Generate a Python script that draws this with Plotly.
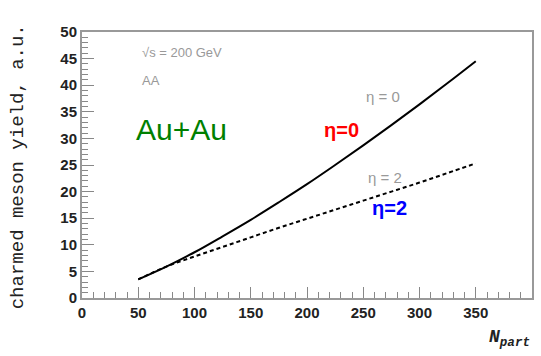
import plotly.graph_objects as go

n_part_solid = [50, 75, 100, 125, 150, 175, 200, 225, 250, 275, 300, 325, 350]
yield_eta0 = [3.5, 5.9, 8.6, 11.6, 14.7, 18.0, 21.4, 25.0, 28.7, 32.5, 36.4, 40.4, 44.5]
n_part_dash = [50, 75, 100, 125, 150, 175, 200, 225, 250, 275, 300, 325, 350]
yield_eta2 = [3.5, 5.9, 7.8, 9.6, 11.4, 13.2, 14.9, 16.6, 18.3, 20.0, 21.7, 23.5, 25.3]

x_ticks = [0, 50, 100, 150, 200, 250, 300, 350, 400]
y_ticks = [0, 5, 10, 15, 20, 25, 30, 35, 40, 45, 50]

fig = go.Figure()
fig.add_trace(go.Scatter(x=n_part_solid, y=yield_eta0, mode="lines",
                         line=dict(color="black", width=2), line_shape="spline"))
fig.add_trace(go.Scatter(x=n_part_dash, y=yield_eta2, mode="lines",
                         line=dict(color="black", width=2, dash="4px,3px"), line_shape="spline"))

tickfont = dict(family="Liberation Sans, Arial", size=15, color="#222222", weight="bold")
fig.update_layout(
    width=541, height=356,
    margin=dict(l=82, r=7, t=32, b=58),
    paper_bgcolor="white", plot_bgcolor="white",
    showlegend=False,
    xaxis=dict(range=[0, 400], tickvals=x_ticks, ticks="inside", ticklen=11, tickcolor="#888",
               showgrid=False, zeroline=False, showline=True, linecolor="#999", linewidth=2,
               mirror=True, tickfont=tickfont,
               minor=dict(dtick=10, ticks="inside", ticklen=6, tickcolor="#888", showgrid=False)),
    yaxis=dict(range=[0, 50], tickvals=y_ticks, ticks="inside", ticklen=12, tickcolor="#888",
               showgrid=False, zeroline=False, showline=True, linecolor="#999", linewidth=2,
               mirror=True, tickfont=tickfont,
               minor=dict(dtick=1, ticks="inside", ticklen=6, tickcolor="#888", showgrid=False)),
)

pl, pr, pt, pb = 82, 534, 32, 298


def px2paper(px, py):
    return (px - pl) / (pr - pl), (pb - py) / (pb - pt)


ann = [
    dict(x=18, y=167, text="charmed meson yield, a.u.", textangle=-90,
         font=dict(family="Liberation Mono, Courier New", size=19, color="#222")),
    dict(x=511, y=338, text="<b><i>N</i></b><sub><b><i>part</i></b></sub>",
         font=dict(family="Liberation Mono, Courier New", size=18, color="#222")),
    dict(x=140, y=52, text="√s = 200 GeV", xanchor="left",
         font=dict(family="Liberation Sans, Arial", size=13, color="#999")),
    dict(x=140, y=80, text="AA", xanchor="left",
         font=dict(family="Liberation Sans, Arial", size=13, color="#999")),
    dict(x=384, y=96, text="η = 0",
         font=dict(family="Liberation Sans, Arial", size=15, color="#999")),
    dict(x=386, y=177, text="η = 2",
         font=dict(family="Liberation Sans, Arial", size=15, color="#999")),
    dict(x=182, y=129, text="Au+Au",
         font=dict(family="Liberation Sans, Arial", size=30, color="#008000")),
    dict(x=343, y=130, text="<b>η=0</b>",
         font=dict(family="Liberation Sans, Arial", size=20, color="#ff0000")),
    dict(x=391, y=208, text="<b>η=2</b>",
         font=dict(family="Liberation Sans, Arial", size=20, color="#0000ff")),
]
for a in ann:
    ax, ay = px2paper(a["x"], a["y"])
    fig.add_annotation(xref="paper", yref="paper", showarrow=False,
                       x=ax, y=ay, text=a["text"],
                       font=a["font"], textangle=a.get("textangle", 0),
                       xanchor=a.get("xanchor", "center"), yanchor="middle")

fig.write_html("out.html")
